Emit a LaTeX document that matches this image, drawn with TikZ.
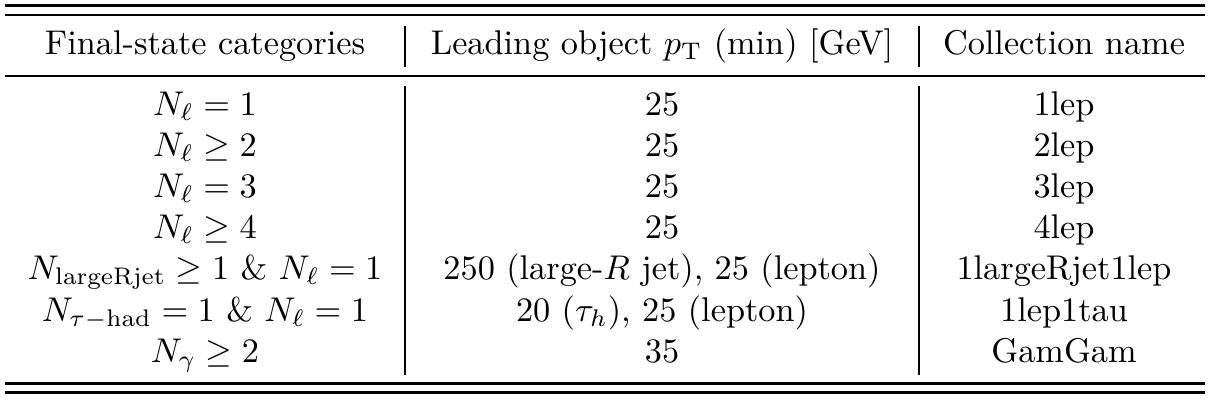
\documentclass[tikz,border=0pt]{standalone}
\usepackage{amsmath}
\begin{document}
\begin{tikzpicture}[x=0.2915pt,y=-0.2915pt,
  cell/.style={anchor=base,inner sep=0pt,font=\fontsize{10}{12}\selectfont},
  hrule/.style={line width=#1*0.2915pt},
  vrule/.style={line width=1.5*0.2915pt}]
\useasboundingbox (0,0) rectangle (1210,400);
% horizontal rules
\coordinate (tl1) at (5,5.5);   \coordinate (tr1) at (1205,5.5);
\coordinate (tl2) at (5,15);    \coordinate (tr2) at (1205,15);
\coordinate (ml)  at (5,76);    \coordinate (mr)  at (1205,76);
\coordinate (bl1) at (5,383.5); \coordinate (br1) at (1205,383.5);
\coordinate (bl2) at (5,392.5); \coordinate (br2) at (1205,392.5);
\draw[hrule=3] (tl1) -- (tr1);
\draw[hrule=2.4] (tl2) -- (tr2);
\draw[hrule=2] (ml) -- (mr);
\draw[hrule=2.4] (bl1) -- (br1);
\draw[hrule=3.3] (bl2) -- (br2);
% vertical rules
\coordinate (v1a) at (405,26);  \coordinate (v1b) at (405,67);
\coordinate (v1c) at (405,86);  \coordinate (v1d) at (405,375);
\coordinate (v2a) at (919,26);  \coordinate (v2b) at (919,67);
\coordinate (v2c) at (919,86);  \coordinate (v2d) at (919,375);
\draw[vrule] (v1a) -- (v1b);
\draw[vrule] (v1c) -- (v1d);
\draw[vrule] (v2a) -- (v2b);
\draw[vrule] (v2c) -- (v2d);
% header
\node[cell] (h1) at (205,54) {Final-state categories};
\node[cell] (h2) at (662,54) {Leading object $p_{\mathrm{T}}$ (min) [GeV]};
\node[cell] (h3) at (1064,54) {Collection name};
% rows
\node[cell] (a1) at (205,115)   {$N_\ell = 1$};
\node[cell] (a2) at (205,156.2) {$N_\ell \geq 2$};
\node[cell] (a3) at (205,197.4) {$N_\ell = 3$};
\node[cell] (a4) at (205,238.6) {$N_\ell \geq 4$};
\node[cell] (a5) at (205,279.8) {$N_{\mathrm{largeRjet}} \geq 1~\&~N_\ell = 1$};
\node[cell] (a6) at (205,321)   {$N_{\tau-\mathrm{had}} = 1~\&~N_\ell = 1$};
\node[cell] (a7) at (205,362.2) {$N_\gamma \geq 2$};
\node[cell] (b1) at (662,115)   {25};
\node[cell] (b2) at (662,156.2) {25};
\node[cell] (b3) at (662,197.4) {25};
\node[cell] (b4) at (662,238.6) {25};
\node[cell] (b5) at (662,279.8) {250 (large-$R$ jet), 25 (lepton)};
\node[cell] (b6) at (662,321)   {20 ($\tau_h$), 25 (lepton)};
\node[cell] (b7) at (662,362.2) {35};
\node[cell] (c1) at (1064,115)   {1lep};
\node[cell] (c2) at (1064,156.2) {2lep};
\node[cell] (c3) at (1064,197.4) {3lep};
\node[cell] (c4) at (1064,238.6) {4lep};
\node[cell] (c5) at (1064,279.8) {1largeRjet1lep};
\node[cell] (c6) at (1064,321)   {1lep1tau};
\node[cell] (c7) at (1064,362.2) {GamGam};
\end{tikzpicture}
\end{document}
